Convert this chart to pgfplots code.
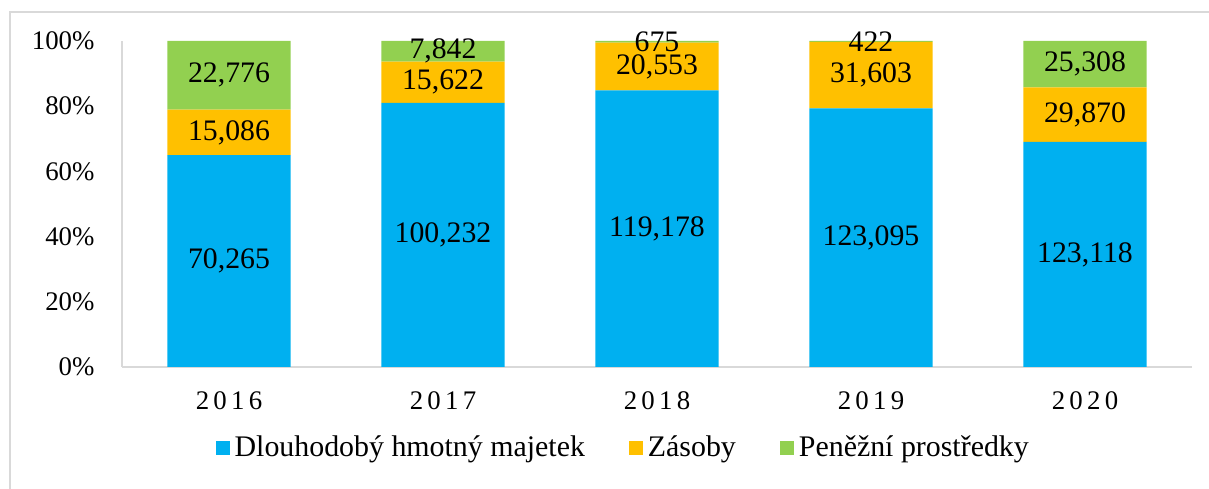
\documentclass[border=0pt]{standalone}
\usepackage{fontspec}
\setmainfont{Liberation Serif}
\usepackage{pgfplots}
\usepackage{pgfplotstable}
\pgfplotsset{compat=1.18}
\definecolor{cblue}{HTML}{00B0F0}
\definecolor{corange}{HTML}{FFC000}
\definecolor{cgreen}{HTML}{92D050}
\definecolor{linegray}{HTML}{D9D9D9}
\newlength\px
\setlength\px{0.0132341cm}

% percent of year total, label = absolute value
\pgfplotstableread{
x y lbl
0 64.98 70,265
1 81.03 100,232
2 84.88 119,178
3 79.35 123,095
4 69.05 123,118
}\dhm
\pgfplotstableread{
x y lbl
0 13.95 15,086
1 12.63 15,622
2 14.64 20,553
3 20.37 31,603
4 16.75 29,870
}\zas
\pgfplotstableread{
x y lbl
0 21.07 22,776
1 6.34 7,842
2 0.48 675
3 0.28 422
4 14.20 25,308
}\pen

\begin{document}
\begin{tikzpicture}
\path[use as bounding box] (0,0) rectangle (1209*\px,489*\px);
\draw[linegray, line width=2*\px] (10*\px,0) -- (10*\px,477*\px) -- (1209*\px,477*\px);
\begin{axis}[
  at={(122*\px,122*\px)}, anchor=south west,
  x=214*\px, y=3.26*\px,
  xmin=-0.5, xmax=4.5, ymin=0, ymax=100,
  ybar stacked, bar width=0.575,
  axis x line*=bottom, axis y line*=left,
  axis line style={draw=linegray, line width=2*\px, -},
  major tick length=0pt,
  xtick={0,1,2,3,4},
  xticklabels={2\kern1.6pt 0\kern1.6pt 1\kern1.6pt 6,
               2\kern1.6pt 0\kern1.6pt 1\kern1.6pt 7,
               2\kern1.6pt 0\kern1.6pt 1\kern1.6pt 8,
               2\kern1.6pt 0\kern1.6pt 1\kern1.6pt 9,
               2\kern1.6pt 0\kern1.6pt 2\kern1.6pt 0},
  xticklabel style={font=\fontsize{10.1}{12}\selectfont, anchor=north, inner sep=0pt, yshift=-24*\px},
  ytick={0,20,40,60,80,100},
  yticklabels={0\%,20\%,40\%,60\%,80\%,100\%},
  yticklabel style={font=\fontsize{10.1}{12}\selectfont, anchor=east, inner sep=0pt, xshift=-27*\px},
  point meta=explicit symbolic,
  nodes near coords,
  every node near coord/.append style={font=\fontsize{11.2}{13}\selectfont, anchor=center, inner sep=0pt, black},
  legend columns=3,
  legend style={at={(0.087,-0.2485)}, anchor=west, draw=none, inner sep=0pt,
    font=\fontsize{11.25}{13}\selectfont, nodes={inner sep=0pt},
    /tikz/every odd column/.append style={column sep=5*\px},
    /tikz/every even column/.append style={column sep=44*\px}},
  legend image code/.code={\fill[#1] (0,-7*\px) rectangle (14*\px,7*\px);},
]
\addplot[fill=cblue, draw=none] table[x=x, y=y, meta=lbl] {\dhm};
\addplot[fill=corange, draw=none] table[x=x, y=y, meta=lbl] {\zas};
\addplot[fill=cgreen, draw=none] table[x=x, y=y, meta=lbl] {\pen};
\legend{Dlouhodobý hmotný majetek, Zásoby, Peněžní prostředky}
\end{axis}
\end{tikzpicture}
\end{document}
